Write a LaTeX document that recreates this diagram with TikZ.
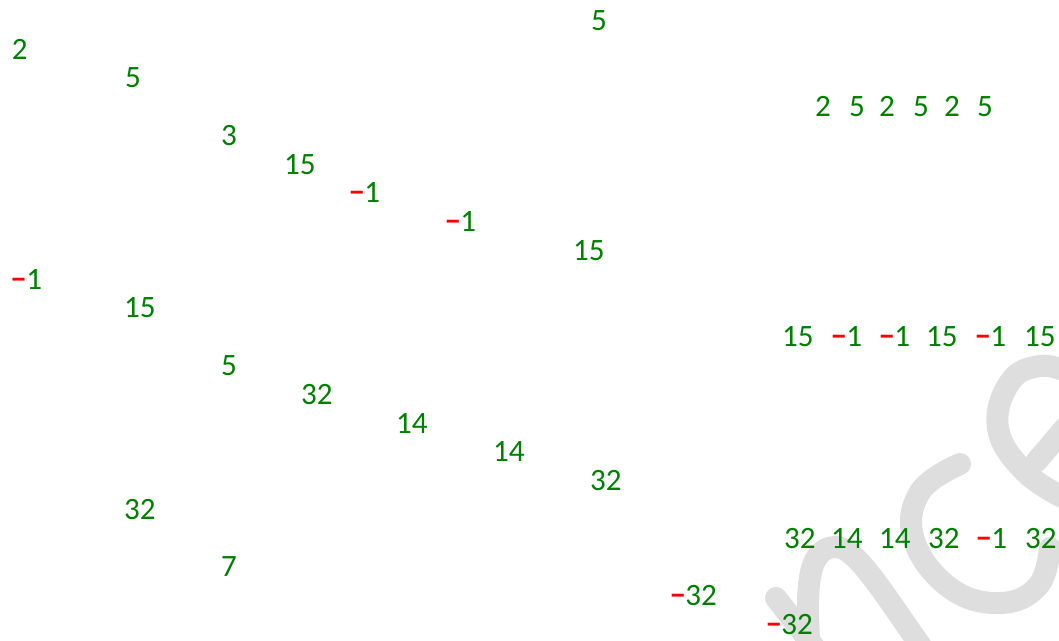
\documentclass[tikz,border=0pt]{standalone}
\usepackage{fontspec}
\setmainfont{Carlito}
\newfontfamily\numfont{Carlito}
\definecolor{numgreen}{RGB}{0,128,0}
\definecolor{negred}{RGB}{255,0,0}
\definecolor{wmgray}{RGB}{222,222,222}
\newcommand{\rmin}{\textcolor{negred}{\bfseries −}}
\tikzset{
  num/.style={anchor=base west, inner sep=0pt, outer sep=0pt, text=numgreen, font=\numfont\fontsize{23.3}{23.3}\selectfont},
  wm/.style={draw=wmgray, line width=16.5pt, line cap=round, line join=round}
}
\begin{document}
\begin{tikzpicture}[x=0.75pt,y=-0.75pt]
\useasboundingbox (0,0) rectangle (1059,641);
% watermark (behind text)
\draw[wm] (776,598) -- (818,652);
\draw[wm] (810,655) .. controls (806,595) and (805,548) .. (835,547) .. controls (855,546) and (880,588) .. (925,652);
\draw[wm] plot[smooth, tension=0.7] coordinates {(960,464) (920,492) (914,540) (950,588) (1000,603) (1038,586) (1050,548)};
\draw[wm] plot[smooth, tension=0.7] coordinates {(1068,500) (1025,472) (998,428) (1010,382) (1040,366) (1068,372)};
\draw[wm] (1036,462) -- (1070,422);
% numbers
\node[num] (a0) at (591,30.5) {5};
\node[num] (a1) at (12,59.25) {2};
\node[num] (a2) at (125,88) {5};
\node[num] (r1a) at (815,116.75) {2};
\node[num] (r1b) at (849,116.75) {5};
\node[num] (r1c) at (879,116.75) {2};
\node[num] (r1d) at (913,116.75) {5};
\node[num] (r1e) at (944,116.75) {2};
\node[num] (r1f) at (977,116.75) {5};
\node[num] (a4) at (221,145.5) {3};
\node[num] (a5) at (284,174.25) {15};
\node[num] (a6) at (349,203) {\rmin1};
\node[num] (a7) at (445,231.75) {\rmin1};
\node[num] (a8) at (573,260.5) {15};
\node[num] (a9) at (11,289.25) {\rmin1};
\node[num] (a10) at (124,318) {15};
\node[num] (r2a) at (782,346.75) {15};
\node[num] (r2b) at (831,346.75) {\rmin1};
\node[num] (r2c) at (879,346.75) {\rmin1};
\node[num] (r2d) at (926,346.75) {15};
\node[num] (r2e) at (975,346.75) {\rmin1};
\node[num] (r2f) at (1024,346.75) {15};
\node[num] (a12) at (221,375.5) {5};
\node[num] (a13) at (301,404.25) {32};
\node[num] (a14) at (396,433) {14};
\node[num] (a15) at (493,461.75) {14};
\node[num] (a16) at (590,490.5) {32};
\node[num] (a17) at (124,519.25) {32};
\node[num] (r3a) at (784,548) {32};
\node[num] (r3b) at (831,548) {14};
\node[num] (r3c) at (879,548) {14};
\node[num] (r3d) at (928,548) {32};
\node[num] (r3e) at (976,548) {\rmin1};
\node[num] (r3f) at (1025,548) {32};
\node[num] (a19) at (221,576.75) {7};
\node[num] (a20) at (670,605.5) {\rmin32};
\node[num] (a21) at (766,634.25) {\rmin32};
\end{tikzpicture}
\end{document}
